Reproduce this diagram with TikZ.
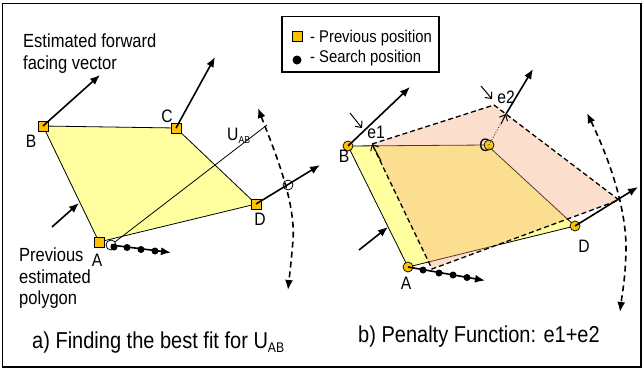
\documentclass[tikz,border=0pt]{standalone}
\usepackage{fontspec}
\setmainfont{Liberation Sans}[FakeStretch=0.87]
\usetikzlibrary{arrows.meta}
\definecolor{gold}{RGB}{255,192,0}
\definecolor{paleyel}{RGB}{255,255,160}
\definecolor{peach}{RGB}{245,165,115}
\begin{document}
\begin{tikzpicture}[x=1pt,y=-1pt,
  vec/.style={line width=1.6pt,-{Latex[length=10pt,width=8pt]}},
  arcline/.style={line width=1.6pt,dash pattern=on 6pt off 4pt,{Latex[length=10pt,width=8pt]}-{Latex[length=10pt,width=8pt]}},
  polyedge/.style={line width=0.8pt},
  sq/.style={draw,fill=gold,minimum size=10pt,inner sep=0pt,line width=0.7pt},
  pc/.style={circle,draw,fill=gold,minimum size=10pt,inner sep=0pt,line width=0.7pt},
  sdot/.style={circle,fill=black,minimum size=7pt,inner sep=0pt},
  ring/.style={circle,draw,minimum size=10pt,inner sep=0pt,line width=0.8pt},
  lbl/.style={font=\fontsize{18}{20}\selectfont,inner sep=0pt},
  txt/.style={font=\fontsize{19}{21}\selectfont,inner sep=0pt,anchor=base west},
  captxt/.style={font=\fontsize{23}{25}\selectfont,inner sep=0pt,anchor=base west},
  leg/.style={font=\fontsize{17}{19}\selectfont,inner sep=0pt,anchor=base west},
  emark/.style={line width=1pt,-{Straight Barb[length=5pt,width=9pt]}}
]
\useasboundingbox (0,0) rectangle (644,370);
\draw[line width=1.2pt] (2.5,3.5) rectangle (641,367);

% ---------------- legend
\draw[line width=1.2pt] (282,16.5) rectangle (439,72);
\node[sq] (legsq) at (297,36) {};
\node[sdot,minimum size=9pt] (legdot) at (297,60) {};
\node[leg] (legt1) at (310,42) {- Previous position};
\node[leg] (legt2) at (310,62) {- Search position};

% ---------------- left panel
\coordinate (pB) at (43,126);
\coordinate (pC) at (176,128);
\coordinate (pD) at (256,204);
\coordinate (pA) at (99,242);
\fill[paleyel] (pB) -- (pC) -- (pD) -- (pA) -- cycle;
\draw[polyedge] (pB) -- (pC) -- (pD) -- (pA) -- cycle;

\coordinate (uab) at (267,125);
\node[ring] (lo) at (111,245) {};
\draw[polyedge] (lo) -- (uab);

\coordinate (la1) at (258,108);
\coordinate (la2) at (293,240);
\coordinate (la3) at (288,290);
\draw[arcline] (la1) .. controls (272,145) and (296,200) .. (la2) .. controls (291,265) and (289,280) .. (la3);
\node[ring] (lq) at (288,185) {};

\node[sq] (lB) at (pB) {};
\node[sq] (lC) at (pC) {};
\node[sq] (lD) at (pD) {};
\node[sq] (lA) at (pA) {};

\coordinate (ltB) at (100,75);
\coordinate (ltC) at (215,57);
\coordinate (ltD) at (320,165);
\draw[vec] (lB.center) -- (ltB);
\draw[vec] (lC.center) -- (ltC);
\draw[vec] (lD.center) -- (ltD);

\coordinate (ltS) at (171,252.5);
\draw[vec] (lo.center) -- (ltS);
\node[sdot] (ls0) at (114,247) {};
\node[sdot] (ls1) at (127,247.5) {};
\node[sdot] (ls2) at (141,249.5) {};
\node[sdot] (ls3) at (155,251) {};

\coordinate (lp1) at (52,227);
\coordinate (lp2) at (79,203);
\draw[vec] (lp1) -- (lp2);

\node[lbl] (lbB) at (31,141) {B};
\node[lbl] (lbC) at (167,116.5) {C};
\node[lbl] (lbD) at (260,219) {D};
\node[lbl] (lbA) at (97,260) {A};
\node[txt,font=\fontsize{18}{20}\selectfont] (lbU) at (227,140) {U\raisebox{-3pt}{\fontsize{10}{10}\selectfont AB}};

\node[txt] (t1) at (23,47) {Estimated forward};
\node[txt] (t2) at (23,69) {facing vector};
\node[txt] (t3) at (19,261) {Previous};
\node[txt] (t4) at (19,283) {estimated};
\node[txt] (t5) at (19,304) {polygon};
\node[captxt] (capa) at (32,348) {a) Finding the best fit for U\raisebox{-4pt}{\fontsize{14}{14}\selectfont AB}};

% ---------------- right panel
\coordinate (qB) at (348,146);
\coordinate (qC) at (487,145);
\coordinate (qD) at (575,226);
\coordinate (qA) at (408,267);
\coordinate (dB) at (372,144);
\coordinate (dC) at (494,105);
\coordinate (dD) at (619,200);
\coordinate (dA) at (432,269);
\fill[paleyel] (qB) -- (qC) -- (qD) -- (qA) -- cycle;
\draw[polyedge] (qB) -- (qC) -- (qD) -- (qA) -- cycle;
\fill[peach,fill opacity=0.36] (dB) -- (dC) -- (dD) -- (dA) -- cycle;
\draw[line width=1.3pt,dash pattern=on 5pt off 3pt] (dB) -- (dC) -- (dD) -- (dA) -- cycle;

\coordinate (ra1) at (587,113);
\coordinate (ra2) at (626,245);
\coordinate (ra3) at (620,312);
\draw[arcline] (ra1) .. controls (605,150) and (625,200) .. (ra2) .. controls (626,275) and (622,295) .. (ra3);

\node[lbl] (rbC) at (485,145) {C};
\node[pc] (rB) at (qB) {};
\node[pc,fill opacity=0.8] (rC) at (489,145) {};
\node[pc] (rD) at (qD) {};
\node[pc] (rA) at (qA) {};

\coordinate (rtB) at (410,87);
\coordinate (rx) at (506,114);
\coordinate (rtC) at (533,69);
\coordinate (rtD) at (638,187);
\draw[vec] (rB.center) -- (rtB);
\draw[line width=0.8pt,dotted] (rC.center) -- (rx);
\draw[vec] (rx) -- (rtC);
\draw[vec] (rD.center) -- (rtD);

\coordinate (rtS) at (485,280.5);
\draw[vec] (rA.center) -- (rtS);
\node[sdot] (rs1) at (423,270) {};
\node[sdot] (rs2) at (439,273) {};
\node[sdot] (rs3) at (453,275) {};
\node[sdot] (rs4) at (467,277.5) {};

\coordinate (rp1) at (359,250);
\coordinate (rp2) at (388,227);
\draw[vec] (rp1) -- (rp2);

% e1 / e2 markers
\coordinate (m1a) at (350,113);
\coordinate (m1b) at (362,128);
\coordinate (m2a) at (381,161);
\draw[emark] (m1a) -- (m1b);
\draw[emark] (m2a) -- (dB);
\coordinate (m3a) at (481,86);
\coordinate (m3b) at (492,99);
\coordinate (m4a) at (501,124);
\draw[emark] (m3a) -- (m3b);
\draw[emark] (m4a) -- (rx);

\node[lbl] (lbe1) at (376,132) {e1};
\node[lbl] (lbe2) at (506,97) {e2};
\node[lbl] (rbB) at (344,156) {B};
\node[lbl] (rbD) at (584,246) {D};
\node[lbl] (rbA) at (406,283) {A};
\node[captxt] (capb) at (358,342) {b) Penalty Function: e1+e2};
\end{tikzpicture}
\end{document}
